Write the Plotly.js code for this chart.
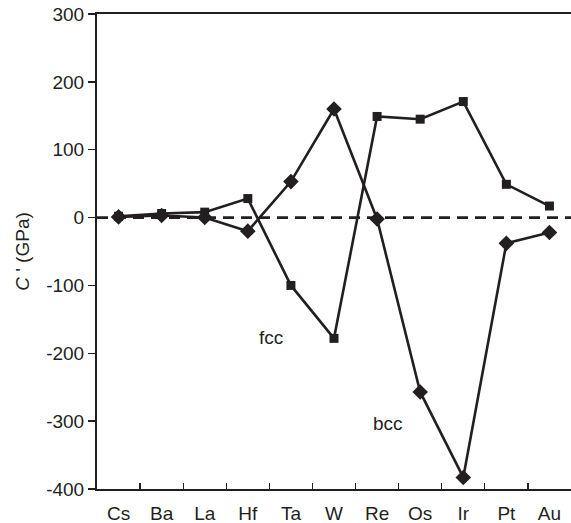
<!DOCTYPE html>
<html>
<head>
<meta charset="utf-8">
<script src="https://cdn.plot.ly/plotly-3.0.1.min.js"></script>
<style>
  html, body { margin: 0; padding: 0; background: #fff; }
  #chart { width: 571px; height: 523px; }
</style>
</head>
<body>
<div id="chart"></div>
<script>
// Elements along the 6th period, left to right
const elements = ['Cs', 'Ba', 'La', 'Hf', 'Ta', 'W', 'Re', 'Os', 'Ir', 'Pt', 'Au'];

// Tetragonal shear constant C' (GPa) for each structure
const cFcc = [2, 6, 8, 28, -100, -178, 149, 145, 171, 49, 17];
const cBcc = [1, 3, 0, -20, 53, 160, -2, -257, -383, -38, -22];

const yTicks = [-400, -300, -200, -100, 0, 100, 200, 300];

const ink = '#231f20';
const font = { family: 'Liberation Sans, Arial, sans-serif', size: 19, color: ink };

const traces = [
  {
    x: elements, y: cFcc, type: 'scatter', mode: 'lines+markers', name: 'fcc',
    line: { color: ink, width: 2.6 },
    marker: { symbol: 'square', size: 9, color: ink }
  },
  {
    x: elements, y: cBcc, type: 'scatter', mode: 'lines+markers', name: 'bcc',
    line: { color: ink, width: 2.6 },
    marker: { symbol: 'diamond', size: 12, color: ink }
  }
];

const layout = {
  width: 571, height: 523,
  margin: { l: 97, r: 0, t: 14, b: 34 },
  paper_bgcolor: '#fff', plot_bgcolor: '#fff',
  showlegend: false,
  font: font,
  xaxis: {
    type: 'category',
    range: [-0.5, 10.5],
    tickson: 'boundaries',
    ticks: 'inside', ticklen: 6, tickwidth: 1.3, tickcolor: ink,
    showline: true, linecolor: ink, linewidth: 2, mirror: true,
    showgrid: false, zeroline: false,
    ticklabelstandoff: 6,
    tickfont: font
  },
  yaxis: {
    range: [-400, 300],
    tickmode: 'array', tickvals: yTicks, ticktext: yTicks.map(String),
    ticks: 'outside', ticklen: 7, tickwidth: 1.3, tickcolor: ink,
    showline: true, linecolor: ink, linewidth: 2,
    showgrid: false, zeroline: false,
    tickfont: font,
    title: { text: "<i>C</i> ' (GPa)", font: font, standoff: 12 }
  },
  shapes: [
    {
      type: 'line', xref: 'paper', x0: 0, x1: 1, yref: 'y', y0: 0, y1: 0,
      line: { color: ink, width: 2.8, dash: '11px,7px' },
      layer: 'below'
    }
  ],
  annotations: [
    { x: 3.53, y: -177, xref: 'x', yref: 'y', text: 'fcc', showarrow: false, font: font },
    { x: 6.26, y: -303, xref: 'x', yref: 'y', text: 'bcc', showarrow: false, font: font }
  ]
};

Plotly.newPlot('chart', traces, layout, { displayModeBar: false, staticPlot: true });
</script>
</body>
</html>
